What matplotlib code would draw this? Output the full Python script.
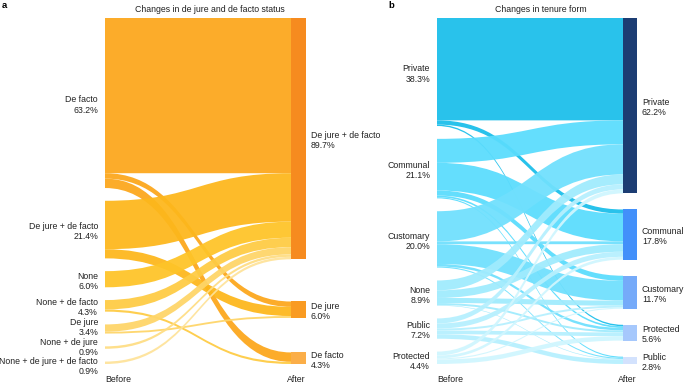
import numpy as np
import matplotlib.pyplot as plt
from matplotlib.path import Path
from matplotlib.patches import PathPatch, Rectangle

plt.rcParams['font.family'] = ['Liberation Sans', 'DejaVu Sans']

# ---- panel a: de jure / de facto status ----
status_before = ["De facto", "De jure + de facto", "None", "None + de facto",
                 "De jure", "None + de jure", "None + de jure + de facto"]
status_before_pct = ["63.2%", "21.4%", "6.0%", "4.3%", "3.4%", "0.9%", "0.9%"]
status_after = ["De jure + de facto", "De jure", "De facto"]
status_after_pct = ["89.7%", "6.0%", "4.3%"]
# rows = before, cols = after (% of area)
status_flows = [
    [57.7, 2.0, 3.5],
    [18.0, 3.4, 0.0],
    [6.0, 0.0, 0.0],
    [3.5, 0.0, 0.8],
    [2.7, 0.7, 0.0],
    [0.9, 0.0, 0.0],
    [0.9, 0.0, 0.0],
]

# ---- panel b: tenure form ----
tenure_before = ["Private", "Communal", "Customary", "None", "Public", "Protected"]
tenure_before_pct = ["38.3%", "21.1%", "20.0%", "8.9%", "7.2%", "4.4%"]
tenure_after = ["Private", "Communal", "Customary", "Protected", "Public"]
tenure_after_pct = ["62.2%", "17.8%", "11.7%", "5.6%", "2.8%"]
tenure_flows = [
    [36.3, 1.5, 0.0, 0.5, 0.0],
    [8.5, 9.8, 1.8, 0.6, 0.4],
    [10.7, 1.0, 7.0, 0.9, 0.4],
    [3.5, 2.7, 1.8, 0.7, 0.2],
    [1.8, 1.8, 0.7, 1.3, 1.6],
    [1.4, 1.0, 0.4, 1.6, 0.0],
]

# colours
status_src_colors = ["#FCA71C", "#FDB71C", "#FEC428", "#FECB44", "#FED568", "#FEDD84", "#FEE39A"]
status_dst_colors = ["#F68B1F", "#F99B22", "#FBAE48"]
tenure_src_colors = ["#1BBEEA", "#5ADCFD", "#70E0FD", "#A0EBFD", "#B6F0FE", "#D0F6FE"]
tenure_dst_colors = ["#1C3D73", "#4290FA", "#75AAF9", "#A6C8FC", "#D3E2FD"]

TXT = "#222222"
FS = 6.3
LS = 1.15


def stack(values, top, span, scale, weights=None):
    values = np.asarray(values, float)
    n = len(values)
    free = span - scale * values.sum()
    if weights is None:
        weights = np.ones(n - 1)
    weights = np.asarray(weights, float)
    gaps = free * weights / weights.sum()
    y0 = np.empty(n)
    y = top
    for i in range(n):
        y0[i] = y
        y += values[i] * scale
        if i < n - 1:
            y += gaps[i]
    return y0


def band(ax, x0, x1, ya0, ya1, yb0, yb1, color):
    xm = (x0 + x1) / 2
    verts = [(x0, ya0), (xm, ya0), (xm, yb0), (x1, yb0),
             (x1, yb1), (xm, yb1), (xm, ya1), (x0, ya1), (x0, ya0)]
    codes = [Path.MOVETO, Path.CURVE4, Path.CURVE4, Path.CURVE4,
             Path.LINETO, Path.CURVE4, Path.CURVE4, Path.CURVE4, Path.CLOSEPOLY]
    ax.add_patch(PathPatch(Path(verts, codes), facecolor=color, edgecolor='none',
                           alpha=0.94, lw=0))


def sankey(ax, flows, before, before_pct, after, after_pct, src_colors, dst_colors,
           x_left, x_bar, bar_w, scale, title, letter, letter_x, right_weights=None):
    flows = np.asarray(flows, float)
    top, span = 18, 346
    src_tot = flows.sum(axis=1)
    dst_tot = flows.sum(axis=0)
    ys = stack(src_tot, top, span, scale)
    yd = stack(dst_tot, top, span, scale, right_weights)

    # offsets within each node
    src_off = ys.copy()
    dst_cursor = yd.copy()
    dst_off = np.zeros_like(flows)
    for j in range(flows.shape[1]):
        for i in range(flows.shape[0]):
            dst_off[i, j] = dst_cursor[j]
            dst_cursor[j] += flows[i, j] * scale

    for i in range(flows.shape[0]):
        for j in range(flows.shape[1]):
            h = flows[i, j] * scale
            if h <= 0:
                continue
            band(ax, x_left, x_bar, src_off[i], src_off[i] + h,
                 dst_off[i, j], dst_off[i, j] + h, src_colors[i])
            src_off[i] += h

    for j in range(len(after)):
        ax.add_patch(Rectangle((x_bar, yd[j]), bar_w, dst_tot[j] * scale,
                               facecolor=dst_colors[j], edgecolor='none'))
        ax.text(x_bar + bar_w + 5, yd[j] + dst_tot[j] * scale / 2 + 2,
                f"{after[j]}\n{after_pct[j]}", ha='left', va='center',
                fontsize=FS, color=TXT, linespacing=LS)

    # left labels: centred on node, pushed apart where nodes are tiny
    ly = ys + src_tot * scale / 2 + 2
    ly[-1] += 2
    for i in range(len(ly) - 2, -1, -1):
        ly[i] = min(ly[i], ly[i + 1] - 19.5)
    for i in range(len(before)):
        ax.text(x_left - 7, ly[i], f"{before[i]}\n{before_pct[i]}", ha='right',
                va='center', fontsize=FS, color=TXT, linespacing=LS)

    ax.text(x_left, 379, "Before", ha='left', va='center', fontsize=FS, color=TXT)
    ax.text(x_bar + bar_w, 379, "After", ha='right', va='center', fontsize=FS, color=TXT)
    ax.text((x_left + x_bar + bar_w) / 2 + 4, 9, title, ha='center', va='center',
            fontsize=FS, color=TXT)
    ax.text(letter_x, 5, letter, ha='left', va='center', fontsize=6.8,
            fontweight='bold', color='black')


fig = plt.figure(figsize=(6.85, 3.84), dpi=100)
ax = fig.add_axes([0, 0, 1, 1])
ax.set_xlim(0, 685)
ax.set_ylim(384, 0)
ax.axis('off')

sankey(ax, status_flows, status_before, status_before_pct, status_after, status_after_pct,
       status_src_colors, status_dst_colors, 105, 291, 15, 2.69,
       "Changes in de jure and de facto status", "a", 2, right_weights=[1.1, 0.9])
sankey(ax, tenure_flows, tenure_before, tenure_before_pct, tenure_after, tenure_after_pct,
       tenure_src_colors, tenure_dst_colors, 437, 623, 14, 2.82,
       "Changes in tenure form", "b", 388)

fig.savefig("out.png", dpi=100)
